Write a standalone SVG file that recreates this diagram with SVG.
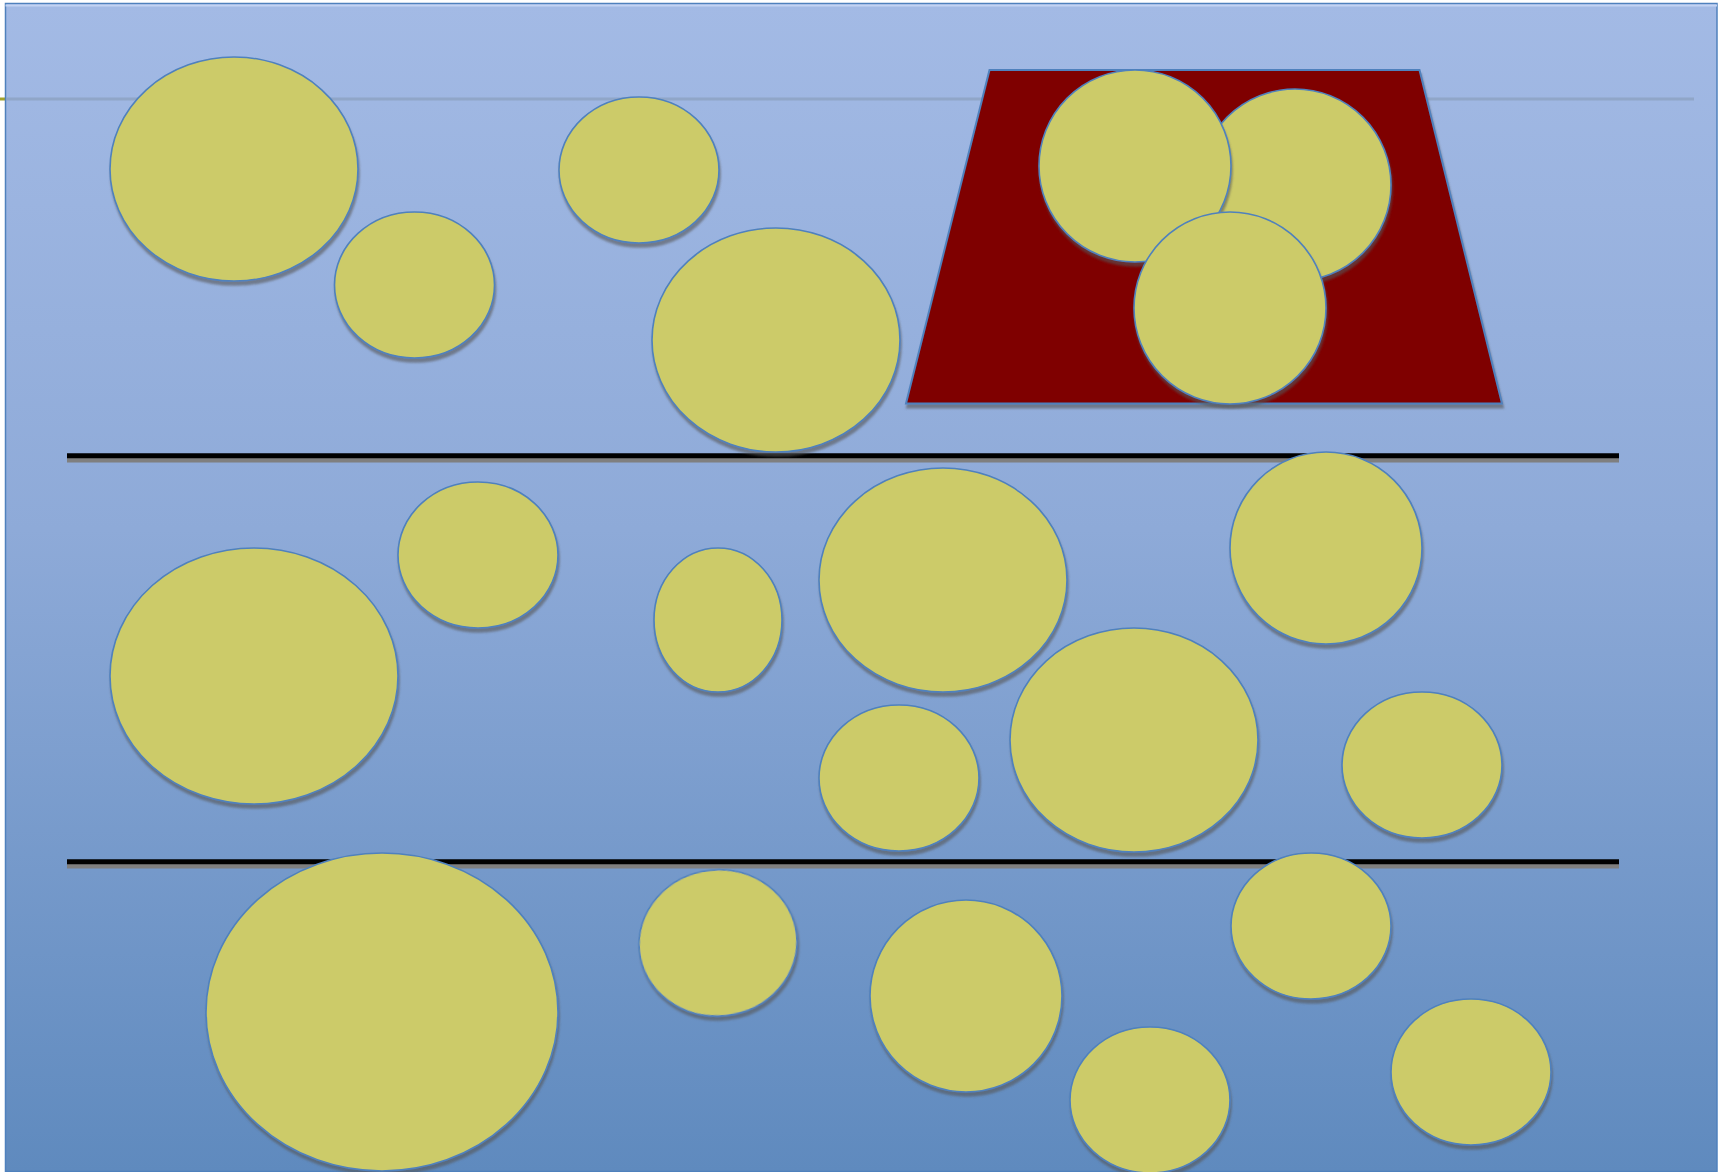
<svg xmlns="http://www.w3.org/2000/svg" width="1724" height="1172" viewBox="0 0 1724 1172">
<defs>
<linearGradient id="bg" x1="0" y1="0" x2="0" y2="1">
<stop offset="0" stop-color="#a3bae5"/>
<stop offset="0.45" stop-color="#8eaad8"/>
<stop offset="1" stop-color="#5f8abe"/>
</linearGradient>
<filter id="sh" x="-10%" y="-10%" width="120%" height="125%">
<feGaussianBlur in="SourceAlpha" stdDeviation="1.2"/>
<feOffset dx="1" dy="4" result="o"/>
<feFlood flood-color="#555" flood-opacity="0.6"/>
<feComposite in2="o" operator="in"/>
<feMerge><feMergeNode/><feMergeNode in="SourceGraphic"/></feMerge>
</filter>
<style>
.b{fill:#cccb69;stroke:#4f81bd;stroke-width:1.6;filter:url(#sh)}
.sep{stroke:#000;stroke-width:5}
.seps{stroke:#7f7f7f;stroke-width:4.5}
</style>
</defs>
<rect x="0" y="0" width="1724" height="1172" fill="#ffffff"/>
<line x1="0" y1="99" x2="8" y2="99" stroke="#a3a32a" stroke-width="3"/>
<rect id="frame" x="5.5" y="3.5" width="1711.5" height="1168" fill="url(#bg)" stroke="#4f81bd" stroke-width="1.5"/>
<line x1="5.5" y1="5.5" x2="1717" y2="5.5" stroke="#c3d3f3" stroke-width="2"/>
<line x1="6" y1="99" x2="1694" y2="99" stroke="#8ea4c4" stroke-width="3" opacity="0.85"/>
<g id="connectors">
<line class="seps" x1="67" y1="460.3" x2="1619" y2="460.3"/>
<line class="sep" x1="67" y1="455.8" x2="1619" y2="455.8"/>
<line class="seps" x1="67" y1="866.3" x2="1619" y2="866.3"/>
<line class="sep" x1="67" y1="861.8" x2="1619" y2="861.8"/>
</g>
<g id="tray"><polygon points="989.5,70 1419.5,70 1502,403.5 906,403.5" fill="#7f0000" stroke="#4f81bd" stroke-width="2" filter="url(#sh)"/></g>
<g id="n1"><ellipse class="b" cx="234" cy="169" rx="124" ry="112"/></g>
<g id="n2"><ellipse class="b" cx="414.5" cy="285" rx="80" ry="73"/></g>
<g id="n3"><ellipse class="b" cx="639" cy="170" rx="80" ry="73"/></g>
<g id="n4"><ellipse class="b" cx="776" cy="340" rx="124" ry="112"/></g>
<g id="n5"><ellipse class="b" cx="1295" cy="185" rx="96" ry="96"/></g>
<g id="n6"><ellipse class="b" cx="1135" cy="166" rx="96" ry="96"/></g>
<g id="n7"><ellipse class="b" cx="1230" cy="308" rx="96" ry="96"/></g>
<g id="n8"><ellipse class="b" cx="254" cy="676" rx="144" ry="128"/></g>
<g id="n9"><ellipse class="b" cx="478" cy="555" rx="80" ry="73"/></g>
<g id="n10"><ellipse class="b" cx="718" cy="620" rx="64" ry="72"/></g>
<g id="n11"><ellipse class="b" cx="943" cy="580" rx="124" ry="112"/></g>
<g id="n12"><ellipse class="b" cx="1326" cy="548" rx="96" ry="96"/></g>
<g id="n13"><ellipse class="b" cx="899" cy="778" rx="80" ry="73"/></g>
<g id="n14"><ellipse class="b" cx="1134" cy="740" rx="124" ry="112"/></g>
<g id="n15"><ellipse class="b" cx="1422" cy="765" rx="80" ry="73"/></g>
<g id="n16"><ellipse class="b" cx="382" cy="1012" rx="176" ry="159"/></g>
<g id="n17"><ellipse class="b" cx="718" cy="943" rx="79" ry="73" transform="rotate(-6 718 943)"/></g>
<g id="n18"><ellipse class="b" cx="966" cy="996" rx="96" ry="96"/></g>
<g id="n19"><ellipse class="b" cx="1311" cy="926" rx="80" ry="73"/></g>
<g id="n20"><ellipse class="b" cx="1150" cy="1100" rx="80" ry="73"/></g>
<g id="n21"><ellipse class="b" cx="1471" cy="1072" rx="80" ry="73"/></g>
</svg>
